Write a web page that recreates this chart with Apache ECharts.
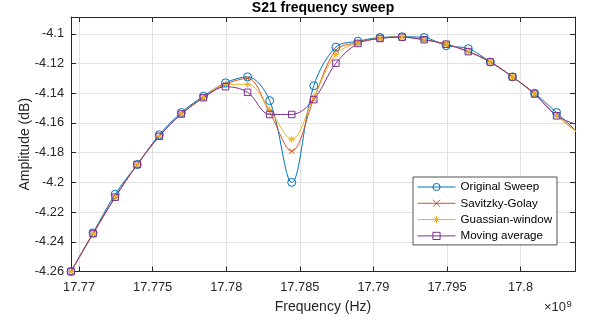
<!DOCTYPE html>
<html>
<head>
<meta charset="utf-8">
<script src="https://cdn.jsdelivr.net/npm/echarts@6/dist/echarts.min.js"></script>
<style>
  html, body { margin: 0; padding: 0; background: #fff; }
  #chart { width: 589px; height: 322px; }
</style>
</head>
<body>
<div id="chart"></div>
<script>
// Sweep frequencies (GHz, axis scaled by 10^9)
const frequency = [
  17.76945, 17.77095, 17.77245, 17.77395, 17.77545, 17.77695, 17.77845, 17.77995,
  17.78145, 17.78295, 17.78445, 17.78595, 17.78745, 17.78895, 17.79045, 17.79195,
  17.79345, 17.79495, 17.79645, 17.79795, 17.79945, 17.80095, 17.80245, 17.80395
];

// Amplitude (dB) for the raw sweep and each smoothing method
const originalSweep = [
  -4.260, -4.234, -4.208, -4.188, -4.168, -4.153, -4.142, -4.133,
  -4.129, -4.145, -4.200, -4.135, -4.109, -4.105, -4.1025, -4.102,
  -4.1025, -4.108, -4.110, -4.119, -4.129, -4.140, -4.153, -4.167
];
const savitzkyGolay = [
  -4.260, -4.2345, -4.210, -4.188, -4.169, -4.154, -4.143, -4.134,
  -4.130, -4.153, -4.179, -4.144, -4.111, -4.106, -4.103, -4.1022,
  -4.104, -4.107, -4.112, -4.119, -4.129, -4.1405, -4.155, -4.167
];
const gaussianWindow = [
  -4.260, -4.2345, -4.210, -4.188, -4.169, -4.154, -4.143, -4.134,
  -4.134, -4.151, -4.171, -4.1425, -4.114, -4.106, -4.103, -4.1022,
  -4.104, -4.107, -4.112, -4.119, -4.129, -4.1405, -4.155, -4.167
];
const movingAverage = [
  -4.260, -4.2345, -4.210, -4.188, -4.169, -4.154, -4.143, -4.1356,
  -4.1394, -4.1543, -4.1543, -4.1443, -4.1198, -4.1065, -4.1032, -4.1023,
  -4.104, -4.107, -4.112, -4.119, -4.129, -4.1405, -4.1552, -4.1615
];

const seriesNames = ['Original Sweep', 'Savitzky-Golay', 'Guassian-window', 'Moving average'];

// Axis ticks and limits
const xTicks = [17.77, 17.775, 17.78, 17.785, 17.79, 17.795, 17.8];
const yTicks = [-4.26, -4.24, -4.22, -4.2, -4.18, -4.16, -4.14, -4.12, -4.1];
const xLimits = [17.76945, 17.8037];
const yLimits = [-4.26, -4.0887];

const FONT = '"Liberation Sans", Arial, Helvetica, sans-serif';
const AXIS_COLOR = '#262626';
const GRID_COLOR = '#e2e2e2';

const SYMBOL_X = 'path://M0,0L10,10M10,0L0,10';
const SYMBOL_STAR = 'path://M5,0L5,10M0,5L10,5M1.6,1.6L8.4,8.4M8.4,1.6L1.6,8.4';

function pairs(values) {
  return frequency.map((f, i) => [f, values[i]]);
}

function makeSeries(name, values, color, symbol, size) {
  return {
    name: name,
    type: 'line',
    xAxisIndex: 0,
    yAxisIndex: 0,
    data: pairs(values),
    smooth: 0.35,
    symbol: symbol,
    symbolSize: size,
    showAllSymbol: true,
    clip: true,
    lineStyle: { color: color, width: 1 },
    itemStyle: { color: 'rgba(255,255,255,0)', borderColor: color, borderWidth: 1 },
    emphasis: { disabled: true }
  };
}

function formatTick(v) {
  return String(+v.toFixed(3));
}

function boxAxis(position, limits, ticks, main) {
  const ax = {
    type: 'value',
    position: position,
    min: limits[0],
    max: limits[1],
    axisLine: { show: true, onZero: false, lineStyle: { color: AXIS_COLOR, width: 1 } },
    axisTick: { show: true, inside: true, length: 5, customValues: ticks,
                lineStyle: { color: AXIS_COLOR, width: 1 } },
    axisLabel: { show: false },
    splitLine: { show: false }
  };
  if (main) {
    ax.axisLabel = {
      show: true, customValues: ticks, formatter: formatTick,
      color: AXIS_COLOR, fontSize: 12.8, fontFamily: FONT
    };
    ax.splitLine = { show: true, lineStyle: { color: GRID_COLOR, width: 1 } };
  }
  return ax;
}

const xMain = boxAxis('bottom', xLimits, xTicks, true);
xMain.axisLabel.margin = 9;
xMain.name = 'Frequency (Hz)';
xMain.nameLocation = 'middle';
xMain.nameGap = 29;
xMain.nameMoveOverlap = false;
xMain.nameTextStyle = { fontSize: 14, color: AXIS_COLOR, fontFamily: FONT };

const yMain = boxAxis('left', yLimits, yTicks, true);
yMain.axisLabel.margin = 7;
yMain.name = 'Amplitude (dB)';
yMain.nameLocation = 'middle';
yMain.nameGap = 39;
yMain.nameMoveOverlap = false;
yMain.nameTextStyle = { fontSize: 14, color: AXIS_COLOR, fontFamily: FONT };

const chart = echarts.init(document.getElementById('chart'), null, { renderer: 'canvas' });

chart.setOption({
  animation: false,
  backgroundColor: '#fff',
  grid: { left: 71, right: 14, top: 17, bottom: 50.5, containLabel: false },
  xAxis: [xMain, boxAxis('top', xLimits, xTicks, false)],
  yAxis: [yMain, boxAxis('right', yLimits, yTicks, false)],
  legend: {
    data: seriesNames,
    orient: 'vertical',
    left: 413,
    top: 177,
    padding: [4, 5, 3, 4],
    itemWidth: 38,
    itemHeight: 9,
    itemGap: 4.3,
    backgroundColor: '#fff',
    borderColor: AXIS_COLOR,
    borderWidth: 0.8,
    borderRadius: 0,
    selectedMode: false,
    lineStyle: { width: 1 },
    itemStyle: { borderWidth: 1 },
    textStyle: { fontSize: 11.6, lineHeight: 12, color: '#000', fontFamily: FONT }
  },
  series: [
    makeSeries(seriesNames[0], originalSweep, '#0072BD', 'circle', 8),
    makeSeries(seriesNames[1], savitzkyGolay, '#D95319', SYMBOL_X, 5.5),
    makeSeries(seriesNames[2], gaussianWindow, '#EDB120', SYMBOL_STAR, 7),
    makeSeries(seriesNames[3], movingAverage, '#7E2F8E', 'rect', 6.5)
  ],
  graphic: [
    {
      type: 'text', x: 323, y: 1, silent: true,
      style: { text: 'S21 frequency sweep', fill: '#000', align: 'center', verticalAlign: 'top',
               font: 'bold 14px ' + FONT }
    },
    {
      type: 'text', x: 566, y: 313.5, silent: true,
      style: { text: '\u00d710', fill: AXIS_COLOR, align: 'right', verticalAlign: 'bottom',
               font: '13px ' + FONT }
    },
    {
      type: 'text', x: 566.5, y: 309, silent: true,
      style: { text: '9', fill: AXIS_COLOR, align: 'left', verticalAlign: 'bottom',
               font: '9.5px ' + FONT }
    }
  ]
});
</script>
</body>
</html>
